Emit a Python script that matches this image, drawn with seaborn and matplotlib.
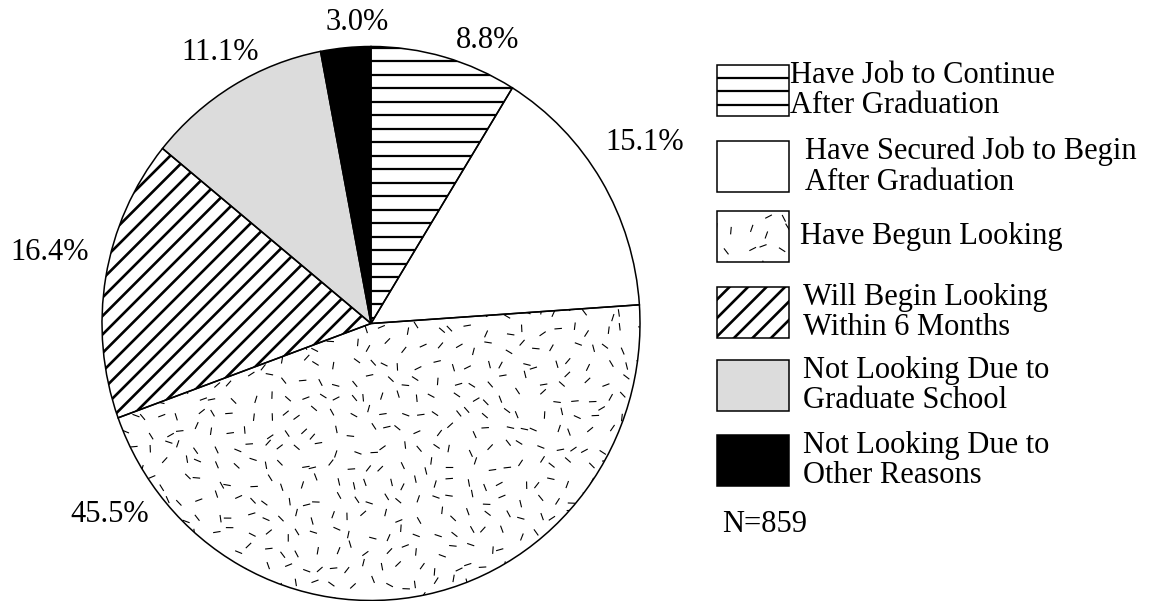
import numpy as np
import matplotlib
matplotlib.use("Agg")
import matplotlib.pyplot as plt
from matplotlib.collections import LineCollection
from matplotlib.patches import Rectangle
from matplotlib.transforms import IdentityTransform
import seaborn as sns

# Job-search status of graduating students
categories = [
    "Have Job to Continue\nAfter Graduation",
    "Have Secured Job to Begin\nAfter Graduation",
    "Have Begun Looking",
    "Will Begin Looking\nWithin 6 Months",
    "Not Looking Due to\nGraduate School",
    "Not Looking Due to\nOther Reasons",
]
percents = [8.8, 15.1, 45.5, 16.4, 11.1, 3.0]
pct_labels = ["8.8%", "15.1%", "45.5%", "16.4%", "11.1%", "3.0%"]
sample_note = "N=859"

# fill style of each category: hatch kind and base colour
fills = ["hlines", "plain", "dashes", "diag", "plain", "plain"]
faces = ["white", "white", "white", "white", "#dcdcdc", "black"]

# label positions (axes data units, pie radius = 1)
label_xy = [(0.435, 1.023), (1.019, 0.655), (-0.97, -0.69),
            (-1.193, 0.258), (-0.56, 0.977), (-0.05, 1.085)]

sns.set_theme(style="white")
plt.rcParams["font.family"] = ["Liberation Serif", "DejaVu Serif"]

W, H = 1157, 601
fig = plt.figure(figsize=(W / 100, H / 100), dpi=100)
fig.patch.set_facecolor("white")

cx, cy, rx, ry = 371, 323.5, 269, 277
ax = fig.add_axes([(cx - rx) / W, (H - cy - ry) / H, 2 * rx / W, 2 * ry / H])

wedges, _ = ax.pie(percents, startangle=90, counterclock=False, radius=1,
                   colors=faces, wedgeprops=dict(linewidth=0, edgecolor="none"))
# outlines drawn on top of the textures
ax.pie(percents, startangle=90, counterclock=False, radius=1,
       wedgeprops=dict(fill=False, linewidth=1.1, edgecolor="black", zorder=4))
ax.set_aspect("auto")
ax.set_xlim(-1, 1)
ax.set_ylim(-1, 1)
ax.axis("off")

rng = np.random.default_rng(11)


def hline_segments(x0, x1, y0, y1, step):
    ys = np.arange(y0 - step, y1 + step, step)
    return [[(x0, y), (x1, y)] for y in ys]


def diag_segments(x0, x1, y0, y1, step):
    segs = []
    span = (x1 - x0) + (y1 - y0)
    for c in np.arange(-span, span, step):
        segs.append([(x0 + c, y0), (x0 + c + (y1 - y0), y1)])
    return segs


def dash_segments(x0, x1, y0, y1, step=17.0, length=7.5):
    segs = []
    for gx in np.arange(x0, x1, step):
        for gy in np.arange(y0, y1, step):
            px = gx + rng.uniform(-6, 6)
            py = gy + rng.uniform(-6, 6)
            a = rng.uniform(0, np.pi)
            dx, dy = 0.5 * length * np.cos(a), 0.5 * length * np.sin(a)
            segs.append([(px - dx, py - dy), (px + dx, py + dy)])
    return segs


def texture(kind, clip, bbox, zorder, host):
    x0, x1, y0, y1 = bbox
    if kind == "hlines":
        segs, lw = hline_segments(x0, x1, y0, y1, 13.5), 1.6
    elif kind == "diag":
        segs, lw = diag_segments(x0, x1, y0, y1, 18.5), 1.9
    elif kind == "dashes":
        segs, lw = dash_segments(x0, x1, y0, y1), 0.8
    else:
        return
    lc = LineCollection(segs, colors="black", linewidths=lw,
                        transform=IdentityTransform(), zorder=zorder)
    lc.set_clip_path(clip)
    host.add_artist(lc)


pie_box = (cx - rx - 5, cx + rx + 5, 0, H)
for w, kind in zip(wedges, fills):
    texture(kind, w, pie_box, 2, ax)

for (x, y), txt in zip(label_xy, pct_labels):
    ax.text(x, y, txt, ha="center", va="center", fontsize=22, color="black", clip_on=False)

# legend swatches and labels (pixel layout)
box_tops = [65, 141, 211, 287, 360, 435]
text_x = [790, 805, 800, 803, 803, 803]
bx, bw, bh = 717, 72, 51
for top, cat, kind, face, tx in zip(box_tops, categories, fills, faces, text_x):
    rect = Rectangle((bx, H - top - bh), bw, bh, facecolor=face, edgecolor="none",
                     transform=IdentityTransform(), zorder=1)
    fig.add_artist(rect)
    texture(kind, rect, (bx - 2, bx + bw + 2, H - top - bh - 2, H - top + 2), 2, fig)
    outline = Rectangle((bx, H - top - bh), bw, bh, fill=False, edgecolor="black",
                        linewidth=1.1, transform=IdentityTransform(), zorder=3)
    fig.add_artist(outline)
    fig.text(tx / W, 1 - (top + bh / 2) / H, cat, ha="left", va="center",
             fontsize=22, linespacing=1.08, color="black")

fig.text(722 / W, 1 - 525 / H, sample_note, ha="left", va="center", fontsize=22, color="black")

fig.savefig("out.png", dpi=100, facecolor="white")
